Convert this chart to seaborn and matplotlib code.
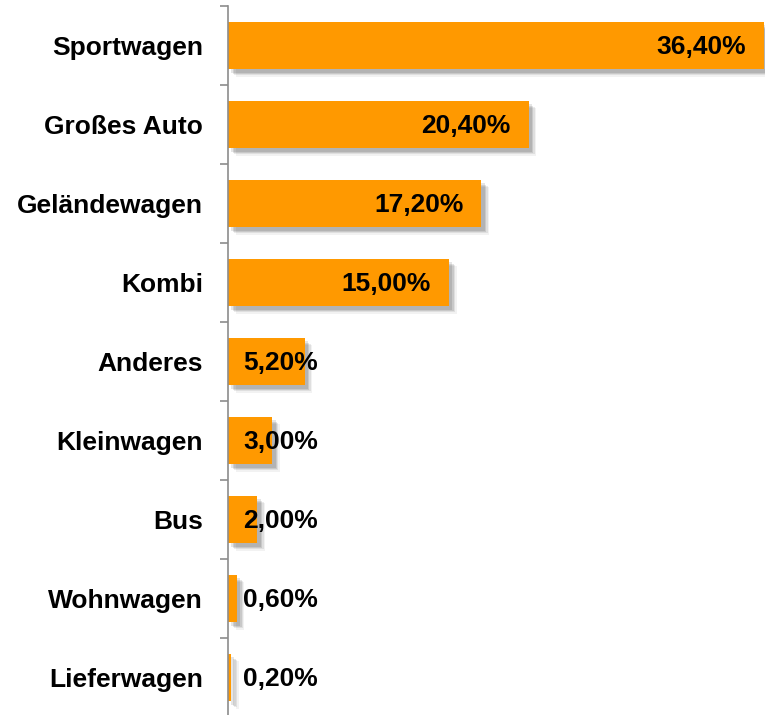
import matplotlib
matplotlib.use("Agg")
import matplotlib.pyplot as plt
import matplotlib.patheffects as pe
from matplotlib.ticker import FixedLocator
import seaborn as sns
import pandas as pd

categories = ["Sportwagen", "Großes Auto", "Geländewagen", "Kombi", "Anderes",
              "Kleinwagen", "Bus", "Wohnwagen", "Lieferwagen"]
values = [36.4, 20.4, 17.2, 15.0, 5.2, 3.0, 2.0, 0.6, 0.2]
labels = ["36,40%", "20,40%", "17,20%", "15,00%", "5,20%", "3,00%", "2,00%", "0,60%", "0,20%"]

sns.set_style("white")
plt.rcParams['font.family'] = ['Liberation Sans', 'DejaVu Sans']

df = pd.DataFrame({"cat": categories, "val": values})

fig = plt.figure(figsize=(7.65, 7.15), dpi=100)
ax = fig.add_axes([228/765, -2/715, 1 - 228/765, 711/715])

sns.barplot(data=df, x="val", y="cat", orient="h", color="#FF9900",
            saturation=1, width=0.6, ax=ax)

shadow = [pe.SimplePatchShadow(offset=(d, -d), shadow_rgbFace="black", alpha=a)
          for d, a in [(5.5, 0.05), (4.5, 0.08), (3.5, 0.1), (2.5, 0.1)]] + [pe.Normal()]
for p in ax.patches:
    p.set_path_effects(shadow)
    p.set_edgecolor("none")

ax.set_xlim(0, 36.45)
ax.set_ylim(8.5, -0.5)
ax.set_xlabel("")
ax.set_ylabel("")
ax.set_xticks([])

for sp in ["top", "right", "bottom"]:
    ax.spines[sp].set_visible(False)
ax.spines["left"].set_color("#8c8c8c")
ax.spines["left"].set_linewidth(1.2)

FS = 19
ax.yaxis.set_minor_locator(FixedLocator([i - 0.5 for i in range(len(categories) + 1)]))
ax.tick_params(axis="y", which="minor", length=6, width=1.2, color="#8c8c8c", direction="out", left=True)
ax.tick_params(axis="y", which="major", length=0, pad=18)
for t in ax.get_yticklabels():
    t.set_fontsize(FS)
    t.set_fontweight("bold")
    t.set_color("black")

for i, (v, lab) in enumerate(zip(values, labels)):
    if v >= 10:
        ax.annotate(lab, xy=(v, i), xytext=(-13, -1), textcoords="offset points",
                    ha="right", va="center", fontsize=FS, fontweight="bold", color="black")
    else:
        ax.annotate(lab, xy=(0, i), xytext=(11, -1), textcoords="offset points",
                    ha="left", va="center", fontsize=FS, fontweight="bold", color="black")

fig.savefig("out.png", dpi=100)
